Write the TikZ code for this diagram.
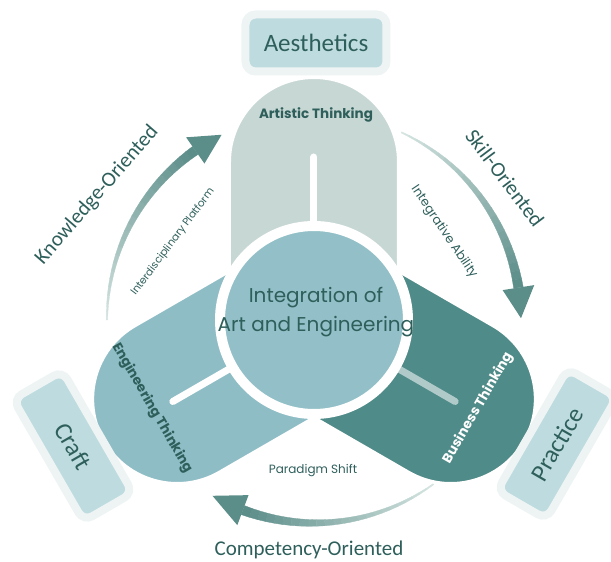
\documentclass[tikz,border=0pt]{standalone}
\usepackage{fontspec}
\setmainfont{Carlito}
\newfontfamily\rond{Poppins}
\usepackage{tikz}

\definecolor{artis}{HTML}{C7D7D4}
\definecolor{ingen}{HTML}{8FBDC6}
\definecolor{centre}{HTML}{93C0C8}
\definecolor{affaires}{HTML}{4F8B88}
\definecolor{texte}{HTML}{2E5F5B}
\definecolor{etiqfond}{HTML}{BEDCDF}
\definecolor{cadrefond}{HTML}{EEF4F4}
\definecolor{fleche}{HTML}{5B8D89}
\definecolor{flechepale}{HTML}{D3E3DF}

\begin{document}
\begin{tikzpicture}[x=1pt, y=1pt,
        etiquette/.style={rectangle, fill=etiqfond, draw=cadrefond, line width=8pt, rounded corners=10pt,
            minimum width=141pt, minimum height=57pt, text=texte, font=\fontsize{25}{30}\selectfont},
        titre/.style={text=texte, font=\rond\bfseries\fontsize{13.5}{16}\selectfont},
        petit/.style={text=texte, font=\rond\fontsize{10.5}{13}\selectfont},
        orient/.style={text=texte, font=\fontsize{21}{25}\selectfont}]
        \useasboundingbox (-314,-242) rectangle (297,320);

        % Les lobes
        \foreach \ang/\coul in {210/ingen, 330/affaires, 90/artis} {
            \fill[\coul, draw=white, line width=2pt, rotate=\ang]
                (0,-84) -- (158,-84) arc[start angle=-90, end angle=90, radius=84] -- (0,84) -- cycle;
        }
        \foreach \ang/\op in {90/1, 210/1, 330/0.55}
            \draw[white, opacity=\op, line width=7pt, line cap=round] (\ang:99) -- (\ang:163);

        % Le cercle central
        \node (centre) [circle, fill=centre, draw=white, line width=10pt, minimum size=188pt] at (0,0) {};
        \node (integ) [text=texte, align=center, font=\rond\fontsize{20}{29}\selectfont] at (2,8)
            {Integration of\\Art and Engineering};

        % Les titres des lobes
        \node (artis) [titre] at (2,205) {Artistic Thinking};
        \node (ingen) [titre, rotate=-60] at (-162,-88) {Engineering Thinking};
        \node (affaires) [titre, text=white, rotate=60] at (164,-88) {Business Thinking};

        % Les étiquettes
        \node (esth) [etiquette] at (2,277) {Aesthetics};
        \node (craft) [etiquette, rotate=-60] at (-241,-126) {Craft};
        \node (prat) [etiquette, rotate=60] at (243,-124) {Practice};

        % Les flèches
        \foreach \a/\h/\b/\R in {180/125/116.5/207, 65/9/0.5/207, -54/-110.5/-120/203} {
            \foreach \i in {0,...,23} {
                \pgfmathsetmacro\ta{\a+(\h-\a)*\i/24}
                \pgfmathsetmacro\tb{\a+(\h-\a)*(\i+1)/24}
                \pgfmathsetmacro\wa{0.6+4.2*\i/24}
                \pgfmathsetmacro\wb{0.6+4.2*(\i+1)/24}
                \pgfmathtruncatemacro\p{100*\i/23}
                \fill[fleche!\p!flechepale, draw=fleche!\p!flechepale, line width=0.3pt]
                    ({\ta}:{\R+\wa}) -- ({\tb}:{\R+\wb}) -- ({\tb}:{\R-\wb}) -- ({\ta}:{\R-\wa}) -- cycle;
            }
            \fill[fleche] ({\h}:{\R+16}) -- ({\b}:{\R}) -- ({\h}:{\R-16}) -- cycle;
        }

        % Les textes autour
        \node (plateforme) [petit, rotate=53] at (-141,78) {Interdisciplinary Platform};
        \node (capacite) [petit, font=\rond\fontsize{12.5}{15}\selectfont, rotate=-56] at (130,88) {Integrative Ability};
        \node (paradigme) [petit, font=\rond\fontsize{12}{14}\selectfont] at (-1,-151) {Paradigm Shift};
        \node (savoir) [orient, rotate=49] at (-217,125) {Knowledge-Oriented};
        \node (competence) [orient, rotate=-53] at (191,142) {Skill-Oriented};
        \node (aptitude) [orient] at (-5,-230) {Competency-Oriented};
    \end{tikzpicture}
\end{document}
